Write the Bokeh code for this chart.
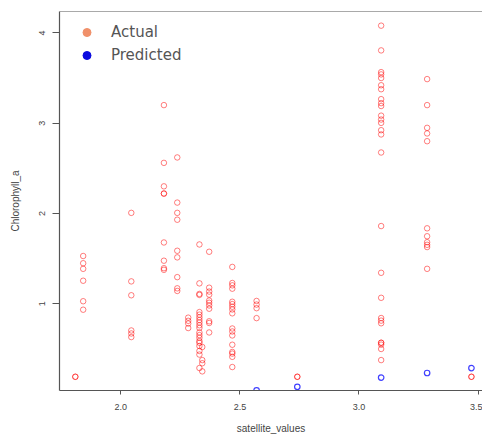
from bokeh.plotting import figure
from bokeh.models import Span, Legend, LegendItem, FixedTicker, NumeralTickFormatter
from bokeh.embed import file_html
from bokeh.resources import INLINE

# Actual values, grouped by satellite value column
col_x = [1.809, 1.842, 2.044, 2.181, 2.237, 2.283, 2.330, 2.342, 2.371, 2.468,
         2.570, 2.741, 3.093, 3.286, 3.472]
col_y = [
    [0.19, 0.19],
    [1.528, 1.448, 1.386, 1.254, 1.027, 0.933],
    [2.006, 1.247, 1.093, 0.703, 0.670, 0.630],
    [3.20, 2.56, 2.30, 2.22, 2.22, 1.678, 1.476, 1.393, 1.375],
    [2.62, 2.12, 2.006, 1.93, 1.586, 1.513, 1.294, 1.17, 1.141],
    [0.845, 0.81, 0.78, 0.73],
    [1.656, 1.225, 1.108, 1.097, 0.907, 0.878, 0.849, 0.819, 0.791, 0.761,
     0.732, 0.681, 0.652, 0.622, 0.586, 0.567, 0.531, 0.476, 0.436, 0.287],
    [0.52, 0.375, 0.34, 0.25],
    [1.575, 1.177, 1.134, 1.10, 1.035, 1.01, 0.98, 0.944, 0.805, 0.786, 0.681],
    [1.407, 1.229, 1.203, 1.166, 1.021, 0.995, 0.966, 0.936, 0.893, 0.725,
     0.692, 0.648, 0.545, 0.465, 0.447, 0.411, 0.298],
    [1.03, 0.99, 0.95, 0.84],
    [0.19, 0.19],
    [4.08, 3.806, 3.565, 3.54, 3.50, 3.42, 3.376, 3.266, 3.222, 3.19, 3.083,
     3.04, 3.003, 2.922, 2.875, 2.675, 1.86, 1.342, 1.065, 0.841, 0.812,
     0.783, 0.567, 0.567, 0.546, 0.498, 0.375],
    [3.488, 3.20, 2.948, 2.886, 2.80, 1.835, 1.747, 1.681, 1.652, 1.627, 1.386],
    [0.19, 0.19],
]

pred_x = [2.570, 2.741, 3.093, 3.286, 3.472]
pred_y = [0.04, 0.079, 0.181, 0.232, 0.287]

x_ticks = [2.0, 2.5, 3.0, 3.5]
y_ticks = [1, 2, 3, 4]

actual_x = [cx for cx, ys in zip(col_x, col_y) for _ in ys]
actual_y = [y for ys in col_y for y in ys]

p = figure(width=482, height=436, output_backend="svg", toolbar_location=None,
           x_range=(1.7426, 3.5185), y_range=(0.038, 4.237),
           min_border_left=59, min_border_right=0, min_border_top=11,
           min_border_bottom=42)
p.grid.visible = False
p.outline_line_color = None
p.background_fill_color = "white"
p.border_fill_color = "white"

p.scatter(actual_x, actual_y, marker="circle", size=5.5, fill_color=None,
          line_color="red", line_alpha=0.5, line_width=1)
p.scatter(pred_x, pred_y, marker="circle", size=5.5, fill_color=None,
          line_color="blue", line_alpha=0.75, line_width=1.2)

p.add_layout(Span(location=4.237, dimension="width", line_color="#555555",
                  line_width=1.2))

for ax in (p.xaxis[0], p.yaxis[0]):
    ax.axis_line_color = "#555555"
    ax.axis_line_width = 1.2
    ax.major_tick_line_color = "#555555"
    ax.minor_tick_line_color = None
    ax.major_tick_in = 0
    ax.major_label_text_font = "Liberation Sans"
    ax.major_label_text_font_size = "9px"
    ax.major_label_text_color = "#444444"
    ax.axis_label_text_font = "Liberation Sans"
    ax.axis_label_text_font_size = "10px"
    ax.axis_label_text_font_style = "normal"
    ax.axis_label_text_color = "#444444"

p.xaxis.ticker = FixedTicker(ticks=x_ticks)
p.yaxis.ticker = FixedTicker(ticks=y_ticks)
p.xaxis.formatter = NumeralTickFormatter(format="0.0")
p.xaxis.major_tick_out = 4
p.yaxis.major_tick_out = 7
p.xaxis.major_label_standoff = 9
p.yaxis.major_label_standoff = 7
p.yaxis.major_label_orientation = "vertical"
p.xaxis.axis_label = "satellite_values"
p.yaxis.axis_label = "Chlorophyll_a"
p.xaxis.axis_label_standoff = 10
p.yaxis.axis_label_standoff = 16

# legend glyphs (points off-chart, shown only in the legend)
nan = float("nan")
ra = p.scatter(x=[nan], y=[nan], marker="circle", size=7.5,
               fill_color="#f0906a", line_color="#f0906a")
rp = p.scatter(x=[nan], y=[nan], marker="circle", size=7.5,
               fill_color="#0a0ae0", line_color="#0a0ae0")
legend = Legend(items=[LegendItem(label="Actual", renderers=[ra]),
                       LegendItem(label="Predicted", renderers=[rp])],
                location="top_left", margin=11, padding=0, glyph_width=33,
                glyph_height=20, label_height=20, spacing=3, label_standoff=8,
                label_text_font="DejaVu Sans", label_text_font_size="15px",
                label_text_color="#555555", border_line_color=None,
                background_fill_alpha=0)
p.add_layout(legend)

open("out.html", "w").write(file_html(p, INLINE))
